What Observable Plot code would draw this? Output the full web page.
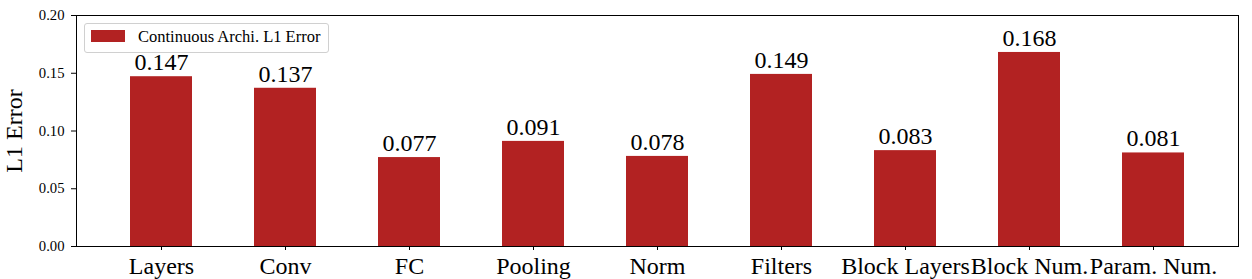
<!DOCTYPE html>
<html>
<head>
<meta charset="utf-8">
<script src="https://cdn.jsdelivr.net/npm/d3@7"></script>
<script src="https://cdn.jsdelivr.net/npm/@observablehq/plot@0.6"></script>
<style>
  html, body { margin: 0; padding: 0; background: #fff; }
  #wrap { position: relative; width: 1252px; height: 279px; font-family: "Liberation Serif", serif; }
  #legend { position: absolute; left: 84px; top: 23px; width: 245px; height: 30px; border: 1px solid #d0d0d0; border-radius: 3px; background: rgba(255,255,255,0.8); box-sizing: border-box; }
  #legend .sw { position: absolute; left: 6px; top: 6px; width: 34px; height: 12px; background: #b22222; }
  #legend .lb { position: absolute; left: 53px; top: 3px; font-size: 16.5px; line-height: 20px; color: #000; white-space: nowrap; }
</style>
</head>
<body>
<div id="wrap"></div>
<script>
const categories = ["Layers", "Conv", "FC", "Pooling", "Norm", "Filters", "Block Layers", "Block Num.", "Param. Num."];
const values = [0.147, 0.137, 0.077, 0.091, 0.078, 0.149, 0.083, 0.168, 0.081];
const yTicks = [0, 0.05, 0.10, 0.15, 0.20];
const seriesName = "Continuous Archi. L1 Error";
const yLabel = "L1 Error";
const barColor = "#b22222";

const data = categories.map((c, i) => ({cat: c, val: values[i]}));
const serif = "'Liberation Serif', serif";

const chart = Plot.plot({
  width: 1252,
  height: 279,
  marginLeft: 76,
  marginRight: 14,
  marginTop: 15,
  marginBottom: 33,
  style: "font-family: 'Liberation Serif', serif; background: white; color: black;",
  x: {type: "band", domain: categories, paddingInner: 0.5, paddingOuter: 0.425, align: 0.5},
  y: {domain: [0, 0.2]},
  marks: [
    Plot.barY(data, {x: "cat", y: "val", fill: barColor}),
    Plot.text(data, {x: "cat", y: "val", text: d => d.val.toFixed(3), lineAnchor: "bottom", dy: -6.5, fontSize: 24, fill: "black", fontFamily: serif}),
    Plot.axisY({ticks: yTicks, tickFormat: d3.format(".2f"), tickSize: 5, tickPadding: 7, fontSize: 14.7, fontFamily: serif,
      label: yLabel, labelAnchor: "center", labelArrow: "none", labelOffset: 72}),
    Plot.axisX({tickSize: 4, tickPadding: 6, fontSize: 24, fontFamily: serif, label: null}),
    Plot.frame({stroke: "black", strokeWidth: 1})
  ]
});

const wrap = document.getElementById("wrap");
wrap.appendChild(chart);
chart.querySelectorAll("text").forEach(el => {
  el.style.setProperty("font-variant", "normal", "important");
});
chart.querySelectorAll("g[aria-label='y-axis label'] text").forEach(t => t.setAttribute("font-size", 24));
const lg = document.createElement("div");
lg.id = "legend";
lg.innerHTML = `<div class="sw"></div><div class="lb"></div>`;
lg.querySelector(".lb").textContent = seriesName;
wrap.appendChild(lg);
</script>
</body>
</html>
